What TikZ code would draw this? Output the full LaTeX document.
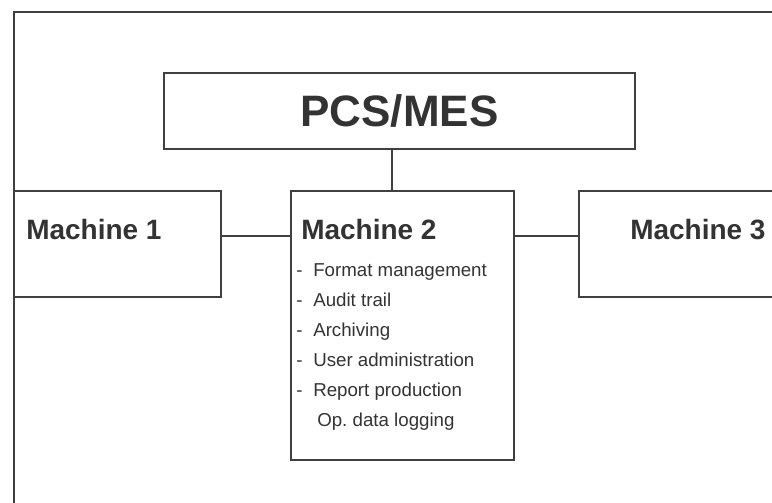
\documentclass[tikz,border=0pt]{standalone}
\usepackage{fontspec}
\setmainfont{Liberation Sans}
\usetikzlibrary{positioning}
\definecolor{LineGray}{HTML}{404040}
\definecolor{TextGray}{HTML}{333333}

\begin{document}
\begin{tikzpicture}[
  x=0.025cm, y=-0.025cm,
  every node/.style={text=TextGray},
  box/.style={draw=LineGray, line width=1.8pt, inner sep=0pt},
  wire/.style={draw=LineGray, line width=1.8pt},
  title/.style={font=\fontsize{19.9}{24}\selectfont\bfseries,
                anchor=base west, inner sep=0pt},
  item/.style={font=\fontsize{13.3}{16}\selectfont,
               anchor=base west, inner sep=0pt},
]
  \useasboundingbox (0,0) rectangle (772,503);
  \clip (0,0) rectangle (772,503);

  % Outer frame, running off to the right and bottom
  \draw[wire] (14,540) |- (820,12);

  % Main boxes
  \node[box, minimum width=11.775cm, minimum height=1.9cm,
        font=\fontsize{31.3}{36}\selectfont\bfseries] (pcs) at (399.5,111) {PCS/MES};
  \node[box, minimum width=5.175cm, minimum height=2.65cm]  (m1) at (117.5,244) {};
  \node[box, minimum width=5.575cm, minimum height=6.725cm] (m2) at (402.5,325.5) {};
  \node[box, minimum width=5.95cm,  minimum height=2.65cm]  (m3) at (698,244) {};

  % Box titles
  \node[title] (m1lbl) at (26,240)  {Machine 1};
  \node[title] (m2lbl) at (301,240) {Machine 2};
  \node[title] (m3lbl) at (630,240) {Machine 3};

  % Function list of machine 2
  \node[item] (d1) at (296,277) {-};
  \node[item] (d2) at (296,307) {-};
  \node[item] (d3) at (296,337) {-};
  \node[item] (d4) at (296,367) {-};
  \node[item] (d5) at (296,397) {-};
  \node[item] (f1) at (313,277) {Format management};
  \node[item] (f2) at (313,307) {Audit trail};
  \node[item] (f3) at (313,337) {Archiving};
  \node[item] (f4) at (313,367) {User administration};
  \node[item] (f5) at (313,397) {Report production};
  \node[item] (f6) at (317,427) {Op.\ data logging};

  % Helper coordinates for the links
  \coordinate (busx) at (392,0);
  \coordinate (linky) at (0,236);

  % Links
  \draw[wire] (pcs.south -| busx) -- (m2.north -| busx);
  \draw[wire] (m1.east |- linky) -- (m2.west |- linky);
  \draw[wire] (m2.east |- linky) -- (m3.west |- linky);

\end{tikzpicture}
\end{document}
